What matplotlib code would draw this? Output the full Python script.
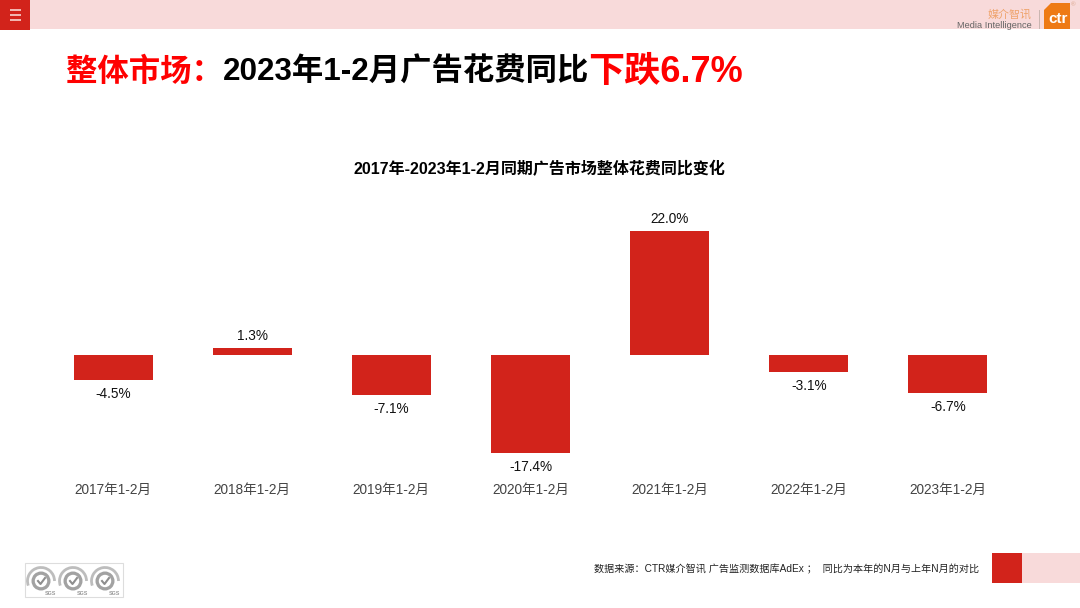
import matplotlib
matplotlib.use("Agg")
import matplotlib.pyplot as plt
from matplotlib.patches import Rectangle, Arc, Circle, Polygon

W, H = 1080, 608
RED = "#D2231B"
PINK = "#F8DADA"
FONTS = ["Liberation Sans", "Noto Sans CJK SC", "DejaVu Sans"]
plt.rcParams["font.family"] = FONTS

categories = ["2017年1-2月", "2018年1-2月", "2019年1-2月", "2020年1-2月",
              "2021年1-2月", "2022年1-2月", "2023年1-2月"]
values = [-4.5, 1.3, -7.1, -17.4, 22.0, -3.1, -6.7]
value_labels = ["-4.5%", "1.3%", "-7.1%", "-17.4%", "22.0%", "-3.1%", "-6.7%"]

chart_title = "2017年-2023年1-2月同期广告市场整体花费同比变化"
source_note = "数据来源：CTR媒介智讯 广告监测数据库AdEx ；  同比为本年的N月与上年N月的对比"

fig = plt.figure(figsize=(W / 100, H / 100), dpi=100, facecolor="white")

bg = fig.add_axes([0, 0, 1, 1], zorder=0)
bg.set_xlim(0, W)
bg.set_ylim(H, 0)
bg.axis("off")

# top band
bg.add_patch(Rectangle((0, 0), W, 29, fc=PINK, ec="none"))
bg.add_patch(Rectangle((0, 0), 29.5, 29.5, fc=RED, ec="none"))
for y in (10, 14.5, 19.5):
    bg.plot([9.5, 20.5], [y, y], color="#FBE3E0", lw=1.1, solid_capstyle="butt")

# logo
bg.text(1032, 15, "媒介智讯", color="#EFA36B", fontsize=7.9, ha="right", va="center")
bg.text(1032, 25, "Media Intelligence", color="#666666", fontsize=6.7, ha="right", va="center")
bg.plot([1038.5, 1038.5], [10, 28], color="#C9B5B0", lw=0.7)
bg.add_patch(Polygon([(1051, 3), (1070, 3), (1070, 29), (1044, 29), (1044, 10)], fc="#EE7A14", ec="none"))
bg.text(1058, 19, "ctr", color="white", fontsize=11, fontweight="bold", ha="center", va="center")
bg.text(1073, 5, "®", color="#D9A58A", fontsize=4.5, ha="center", va="center")

# headline
y_t = 73
bg.text(66, y_t, "整体市场：", color="#FF0000", fontsize=22.6, fontweight="bold", va="center", ha="left")
bg.text(223, y_t, "2023年1-2月广告花费同比", color="black", fontsize=22.6, fontweight="bold", va="center", ha="left")
bg.text(588, y_t - 1, "下跌6.7%", color="#FF0000", fontsize=26, fontweight="bold", va="center", ha="left")

# chart title
bg.text(539, 169, chart_title, color="black", fontsize=11.5, fontweight="bold", ha="center", va="center")

# footer
bg.text(979, 569, source_note, color="#222222", fontsize=7.25, ha="right", va="center")
bg.add_patch(Rectangle((992, 553), 30, 29.5, fc=RED, ec="none"))
bg.add_patch(Rectangle((1022, 553), 58, 29.5, fc=PINK, ec="none"))

# SGS badges
bg.add_patch(Rectangle((25, 563), 98, 34, fc="white", ec="#DDDDDD", lw=0.8))
for cx in (42, 74, 106):
    bg.add_patch(Arc((cx - 1, 581), 27, 27, theta1=160, theta2=360, color="#BDBDBD", lw=2.0))
    bg.add_patch(Circle((cx - 1, 581), 9.5, fc="#A2A2A2", ec="none"))
    bg.add_patch(Circle((cx - 1, 581), 6.2, fc="white", ec="none"))
    bg.plot([cx - 4, cx - 1.5, cx + 3], [581, 584, 578], color="#8E8E8E", lw=1.5)
    bg.text(cx + 8, 593.5, "SGS", color="#999999", fontsize=3.8, ha="center", va="center", fontweight="bold")

# chart
px_per_unit = 124 / 22.0
left, right, top, bottom = 43.5, 1017.5, 200, 476
ax = fig.add_axes([left / W, 1 - bottom / H, (right - left) / W, (bottom - top) / H], zorder=1)
ax.patch.set_alpha(0)
x = list(range(len(categories)))
ax.bar(x, values, width=79 / 139, color=RED, linewidth=0)
ax.set_xlim(-0.5, len(categories) - 0.5)
ax.set_ylim((355 - bottom) / px_per_unit, (355 - top) / px_per_unit)
for s in ax.spines.values():
    s.set_visible(False)
ax.set_yticks([])
ax.set_xticks(x)
ax.set_xticklabels(categories, fontsize=9.8, color="#444444")
ax.tick_params(axis="x", length=0, pad=5)
for xi, v, lab in zip(x, values, value_labels):
    ax.annotate(lab, (xi, v), xytext=(0, 8.5 if v > 0 else -10), textcoords="offset points",
                ha="center", va="center", fontsize=9.8, color="#111111")

fig.savefig("out.png", dpi=100, facecolor="white")
